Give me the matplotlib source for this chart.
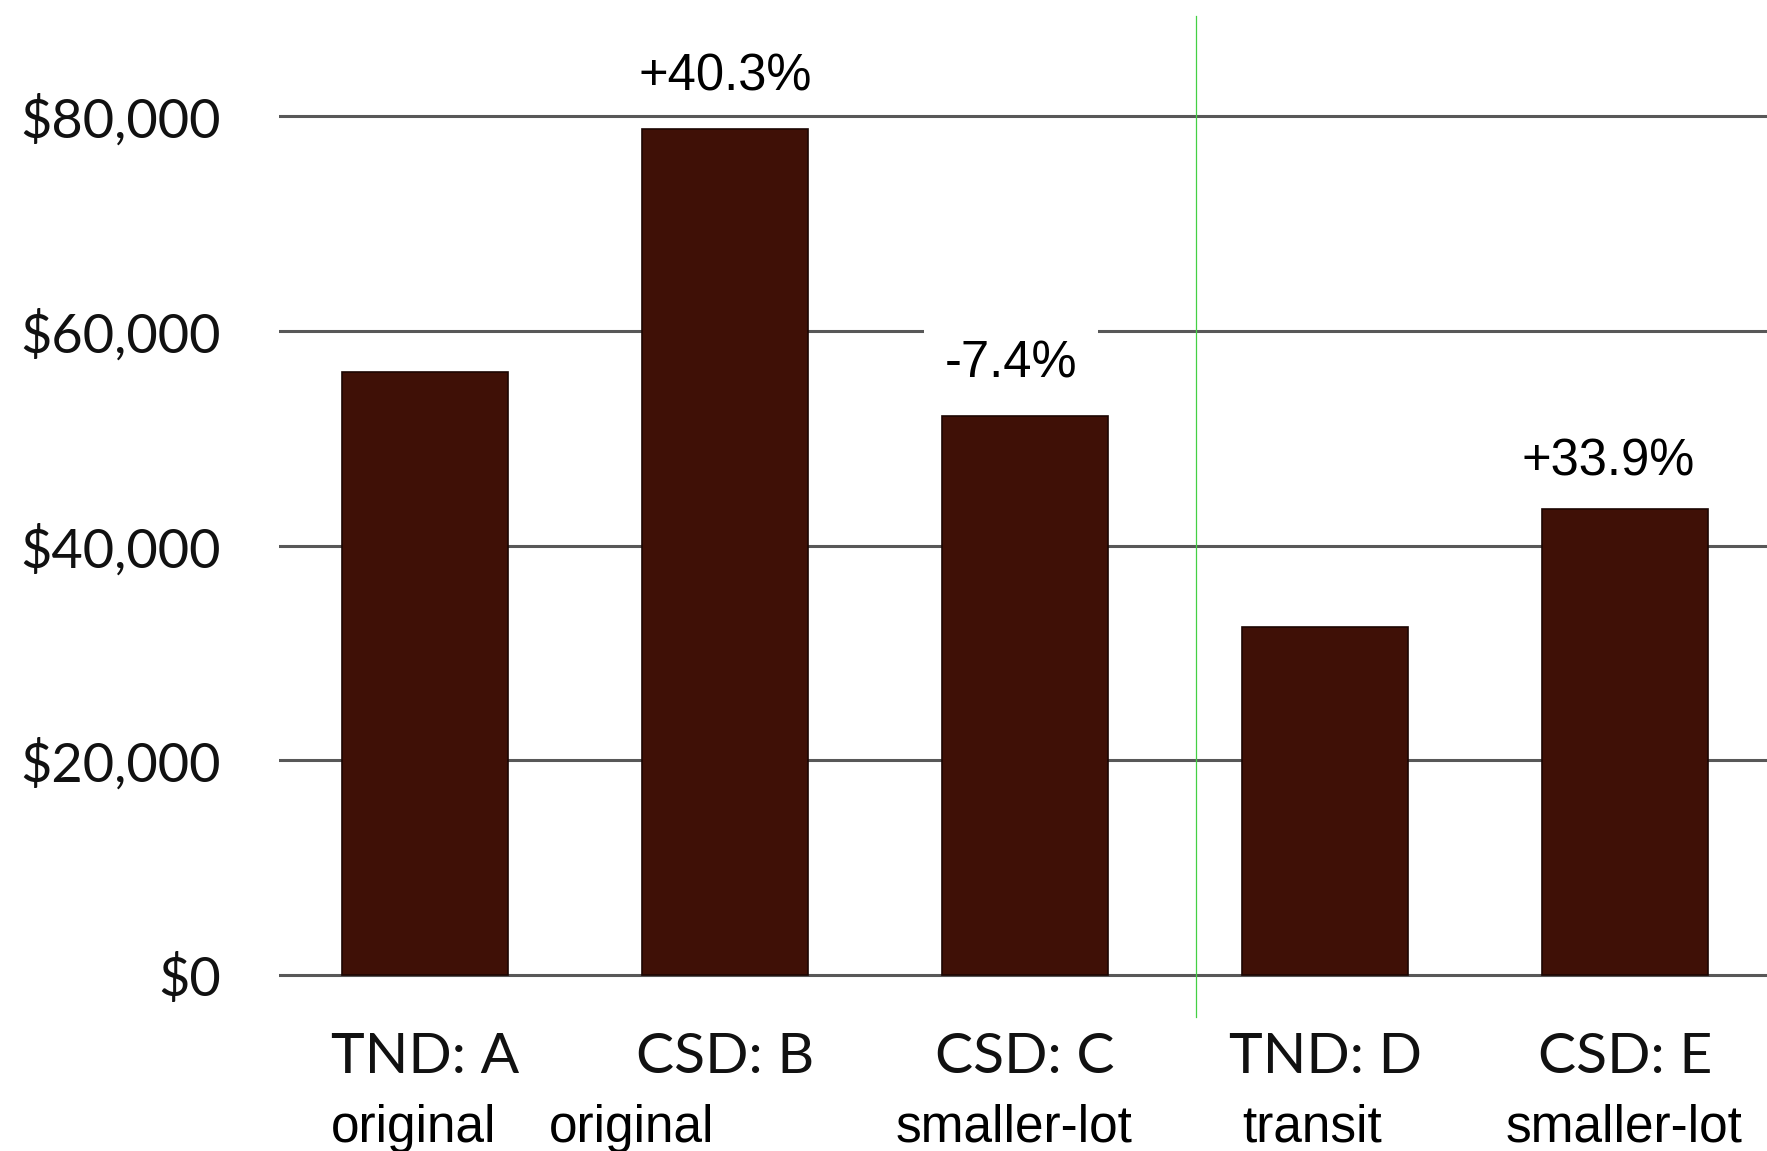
import matplotlib
matplotlib.use("Agg")
import matplotlib.pyplot as plt
from matplotlib.ticker import FuncFormatter

# Household income needed, by development scenario
categories = ["TND: A", "CSD: B", "CSD: C", "TND: D", "CSD: E"]
sublabels = ["original", "original", "smaller-lot", "transit", "smaller-lot"]
values = [56200, 78850, 52040, 32400, 43380]
# Percent change of each bar against a reference bar (None = no label)
compare_to = [None, 0, 0, None, 3]
y_ticks = [0, 20000, 40000, 60000, 80000]

BAR = "#3f1006"
EDGE = "#1c0602"
GRID = "#585858"

fig = plt.figure(figsize=(17.67, 11.51), dpi=100)
W, H = 1767, 1151
px20k = 214.7                      # pixels per $20,000
zero_px = 975                      # pixel row of $0
ymin = -1500
bottom_px = zero_px + (-ymin) / 20000 * px20k
ymax = zero_px / px20k * 20000
left_px = 279
ax = fig.add_axes([left_px / W, 1 - bottom_px / H, 1 - left_px / W, bottom_px / H])

x = list(range(len(categories)))
ax.bar(x, values, width=0.553, color=BAR, edgecolor=EDGE, linewidth=1.2, zorder=3)

ax.set_xlim(-0.487, 4.473)
ax.set_ylim(ymin, ymax)
ax.set_yticks(y_ticks)
ax.yaxis.set_major_formatter(FuncFormatter(lambda v, p: f"${int(v):,}"))
ax.yaxis.grid(True, color=GRID, linewidth=2.2, zorder=1)
ax.set_axisbelow(True)
for s in ax.spines.values():
    s.set_visible(False)
ax.tick_params(axis="y", length=0, pad=42, labelsize=39)
for t in ax.get_yticklabels():
    t.set_fontfamily("Lato")
    t.set_color("#111111")
ax.set_xticks([])

# Category names and sub-labels beneath the axis
sub_x = [-0.037, 0.69, 1.963, 2.957, 3.997]
for i, (cat, sub) in enumerate(zip(categories, sublabels)):
    ax.text(i, -9129, cat, ha="center", va="baseline", fontsize=41,
            family="Lato", color="#111111", clip_on=False)
    ax.text(sub_x[i], -15556, sub, ha="center", va="baseline", fontsize=37,
            family="Liberation Sans", color="#000000", clip_on=False)

# Percent-change annotations: (x, baseline y, white box padding)
pct_pos = {1: (1.0, 82440, 0.12), 2: (1.953, 55613, 0.4), 4: (3.943, 46487, 0.12)}
for i, ref in enumerate(compare_to):
    if ref is None:
        continue
    change = (values[i] / values[ref] - 1) * 100
    px, py, pad = pct_pos[i]
    ax.text(px, py, f"{change:+.1f}%", ha="center", va="baseline", fontsize=36.5,
            family="Liberation Sans", color="#000000", zorder=4,
            bbox=dict(boxstyle=f"square,pad={pad}", facecolor="white", edgecolor="none"))

# Divider between the two comparison groups
ax.plot([2.57, 2.57], [89334, -3912], color="#44d044", linewidth=0.9,
        clip_on=False, zorder=5)

fig.savefig("out.png", dpi=100, facecolor="white")
